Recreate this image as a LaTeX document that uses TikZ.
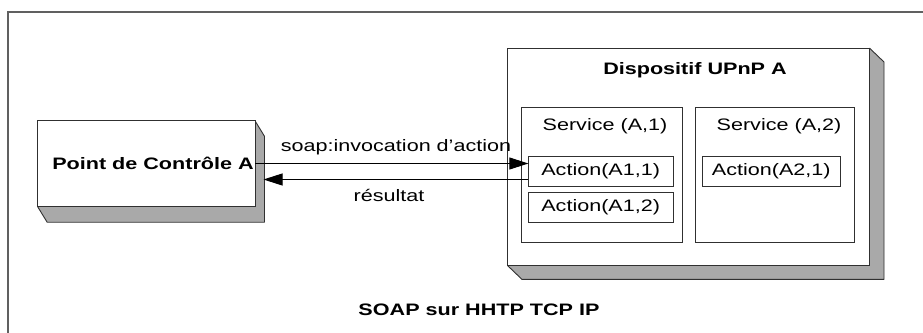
\documentclass[tikz,border=0pt]{standalone}
\usepackage{fontspec}
\setmainfont{Liberation Sans}[FakeStretch=1.3]
\usepackage{xcolor}
\usepackage{tikz}
\usetikzlibrary{arrows.meta,positioning,calc,backgrounds}
\definecolor{shadecolor}{HTML}{A9A9A9}
\definecolor{edgecolor}{HTML}{303030}
\definecolor{framecolor}{HTML}{606060}

\tikzset{
  face/.style={draw=edgecolor, fill=white, line width=0.9pt, inner sep=0pt, outer sep=0pt},
  shade3d/.style={fill=shadecolor, draw=edgecolor, line width=0.9pt, line join=round},
  lbl/.style={font=\fontsize{16.6}{19}\selectfont, inner sep=0pt},
  blbl/.style={font=\fontsize{16.6}{19}\selectfont\bfseries, inner sep=0pt},
  msg/.style={draw=black, line width=0.9pt, -{Triangle[length=19pt,width=12pt]}}
}

\begin{document}
\begin{tikzpicture}[x=1pt,y=-1pt]
\useasboundingbox (0,0) rectangle (923,332);
\draw[framecolor, line width=1.1pt] (8,334) -- (8,12) -- (925,12);

% boxes
\node[face, minimum width=217.3, minimum height=86] (pc) at (146.3,163.7) {};
\node[face, minimum width=362, minimum height=217.4] (dev) at (688.7,157) {};
\node[face, minimum width=161, minimum height=135.7] (svc1) at (601.8,174.8) {};
\node[face, minimum width=158.7, minimum height=135.7] (svc2) at (774.7,174.8) {};
\node[face, minimum width=144.7, minimum height=30] (act11) at (600.7,171.3) {};
\node[face, minimum width=144.7, minimum height=29.6] (act12) at (600.7,207.5) {};
\node[face, minimum width=138, minimum height=30] (act21) at (771.3,171.3) {};

\begin{scope}[on background layer]
\filldraw[shade3d] (pc.south west) -- ($(pc.south west)+(9.5,15.5)$) -- ($(pc.south east)+(9.5,15.5)$)
  -- ($(pc.north east)+(9.5,15.5)$) -- (pc.north east) -- cycle;
\filldraw[shade3d] (dev.south west) -- ($(dev.south west)+(14.3,13.7)$) -- ($(dev.south east)+(14.3,13.7)$)
  -- ($(dev.north east)+(14.3,13.7)$) -- (dev.north east) -- cycle;
\end{scope}

% texts
\node[blbl] (pctext) at (153,163.5) {Point de Contrôle A};
\node[blbl] (devtext) at (695,70) {Dispositif UPnP A};
\node[lbl] (svc1text) at (605,126) {Service (A,1)};
\node[lbl] (svc2text) at (779,126) {Service (A,2)};
\node[lbl] at (act11) {Action(A1,1)};
\node[lbl] at (act12) {Action(A1,2)};
\node[lbl] at (act21) {Action(A2,1)};
\node[blbl] (proto) at (479,310) {SOAP sur HHTP TCP IP};

% messages
\coordinate (req) at (255,163.5);
\coordinate (back) at (263.5,179.5);
\draw[msg] (req) -- (req -| act11.west);
\draw[msg] (act11.west |- back) -- (back);
\node[lbl] (reqtext) at (396,147) {soap:invocation d'action};
\node[lbl] (backtext) at (389,195) {résultat};
\end{tikzpicture}
\end{document}
